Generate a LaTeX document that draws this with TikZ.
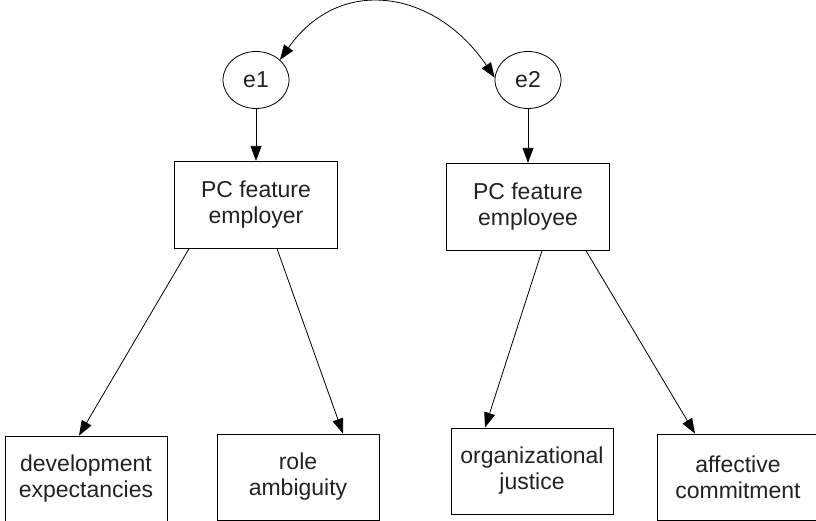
\documentclass[tikz,border=0pt]{standalone}
\usepackage{fontspec}
\setmainfont{Liberation Sans}
\usepackage{tikz}
\usetikzlibrary{shapes.geometric, arrows.meta, positioning, calc}
\definecolor{textgray}{HTML}{222222}
\tikzset{
    errorvar/.style={ellipse, draw, minimum width=66pt, minimum height=57pt, inner sep=0pt},
    feature/.style={rectangle, draw, minimum width=163pt, minimum height=87pt, align=center},
    outcome/.style={rectangle, draw, minimum width=162pt, minimum height=86pt, align=center},
    arrow/.style={-{Triangle[length=15pt, width=11pt]}},
    covarrow/.style={{Triangle[length=15pt, width=11pt]}-{Triangle[length=15pt, width=11pt]}}
}

\begin{document}
\begin{tikzpicture}[x=1pt, y=1pt, line width=0.8pt,
    every node/.style={font=\fontsize{23}{26}\selectfont, text=textgray}]
            \useasboundingbox (0,0) rectangle (816,520);
            \node (e1) [errorvar] at (256,440) {e1};
            \node (e2) [errorvar] at (528,440) {e2};
            \node (employer) [feature, below=52pt of e1] {PC feature\\employer};
            \node (employee) [feature, below=54pt of e2] {PC feature\\employee};
            \node (devexp) [outcome] at (86,41) {development\\expectancies};
            \node (roleamb) [outcome] at (298,43) {role\\ambiguity};
            \node (orgjust) [outcome] at (532,49) {organizational\\justice};
            \node (affcom) [outcome] at (738,43) {affective\\commitment};
            
            \draw[covarrow] (e1.40) to[out=55, in=124, looseness=1.25] (e2.176);
            \draw[arrow] (e1) -- (employer);
            \draw[arrow] (e2) -- (employee);
            \draw[arrow] ($(employer.south)+(-67,0)$) -- ($(devexp.north)+(-7,0)$);
            \draw[arrow] ($(employer.south)+(21,0)$) -- ($(roleamb.north)+(45,0)$);
            \draw[arrow] ($(employee.south)+(14,0)$) -- ($(orgjust.north)+(-47,0)$);
            \draw[arrow] ($(employee.south)+(58,0)$) -- ($(affcom.north)+(-43,0)$);
        \end{tikzpicture}
\end{document}
